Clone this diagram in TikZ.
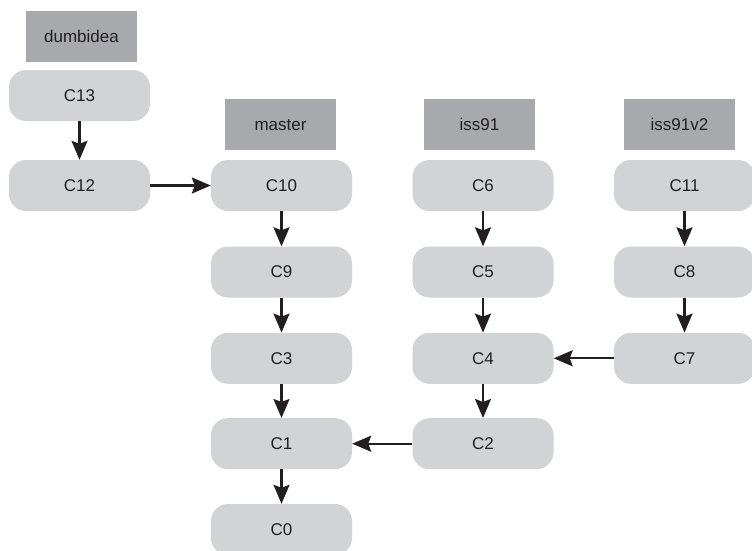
\documentclass[tikz,border=0pt]{standalone}
\usepackage{fontspec}
\setmainfont{Liberation Sans}
\usetikzlibrary{arrows.meta}
\definecolor{commitgray}{HTML}{D1D3D4}
\definecolor{labelgray}{HTML}{A7A9AC}
\definecolor{inkdark}{HTML}{231F20}
\tikzset{
  commit/.style={fill=commitgray, rounded corners=17pt, minimum width=141pt, minimum height=51pt, inner sep=0pt, text=inkdark, font=\fontsize{17}{20}\selectfont},
  branch/.style={fill=labelgray, minimum width=111pt, minimum height=51pt, inner sep=0pt, text=inkdark, font=\fontsize{17}{20}\selectfont},
  link/.style={draw=inkdark, line width=2.2pt, -{Stealth[length=19pt,width=16pt,inset=3pt]}}
}
\begin{document}
\begin{tikzpicture}[x=1pt,y=-1pt]
\useasboundingbox (0,0) rectangle (752,550);
% branch labels
\node[branch] (dumbidea) at (81.5,36.5) {dumbidea};
\node[branch] (master) at (280.5,124.8) {master};
\node[branch] (iss91) at (479.5,124.8) {iss91};
\node[branch] (iss91v2) at (679.5,124.8) {iss91v2};
% commits
\node[commit] (C13) at (79.5,95.5) {C13};
\node[commit] (C12) at (79.5,185.5) {C12};
\node[commit] (C10) at (281.5,185.5) {C10};
\node[commit] (C9) at (281.5,272) {C9};
\node[commit] (C3) at (281.5,358.3) {C3};
\node[commit] (C1) at (281.5,443.7) {C1};
\node[commit] (C0) at (281.5,529.5) {C0};
\node[commit] (C6) at (483,185.5) {C6};
\node[commit] (C5) at (483,272) {C5};
\node[commit] (C4) at (483,358.3) {C4};
\node[commit] (C2) at (483,443.7) {C2};
\node[commit] (C11) at (684.5,185.5) {C11};
\node[commit] (C8) at (684.5,272) {C8};
\node[commit] (C7) at (684.5,358.3) {C7};
% connectors
\draw[link] (C13) -- (C12);
\draw[link] (C12) -- (C10);
\draw[link] (C10) -- (C9);
\draw[link] (C9) -- (C3);
\draw[link] (C3) -- (C1);
\draw[link] (C1) -- (C0);
\draw[link] (C6) -- (C5);
\draw[link] (C5) -- (C4);
\draw[link] (C4) -- (C2);
\draw[link] (C2) -- (C1);
\draw[link] (C11) -- (C8);
\draw[link] (C8) -- (C7);
\draw[link] (C7) -- (C4);
\end{tikzpicture}
\end{document}
